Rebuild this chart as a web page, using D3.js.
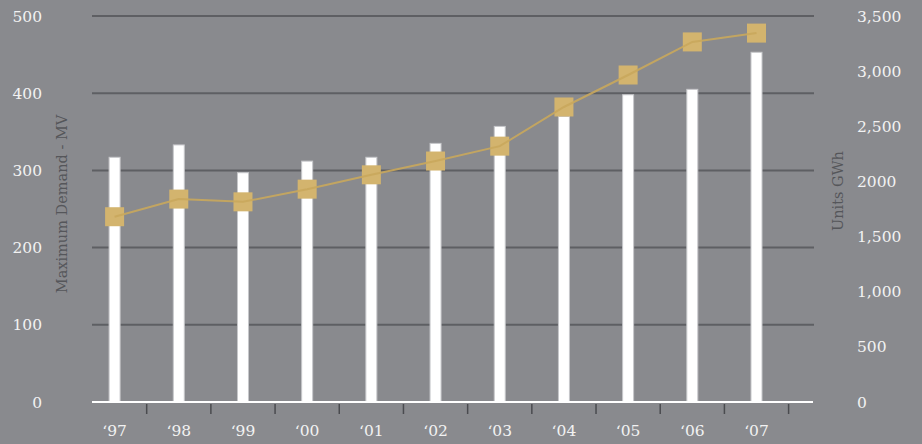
<!DOCTYPE html>
<html>
<head>
<meta charset="utf-8">
<script src="https://cdn.jsdelivr.net/npm/d3@7/dist/d3.min.js"></script>
<style>
  html, body { margin: 0; padding: 0; background: #898a8e; }
  svg { display: block; }
</style>
</head>
<body>
<svg id="chart" width="922" height="444"></svg>
<script>
// ---- data ----
const categories = ["‘97", "‘98", "‘99", "‘00", "‘01", "‘02", "‘03", "‘04", "‘05", "‘06", "‘07"];
const maxDemandMV = [317, 333, 297, 312, 317, 335, 357, 370, 398, 405, 453];
const unitsGWh = [1680, 1840, 1815, 1930, 2060, 2185, 2320, 2675, 2965, 3265, 3345];
const leftTicks = [0, 100, 200, 300, 400, 500];
const rightTicks = [0, 500, 1000, 1500, 2000, 2500, 3000, 3500];
const rightTickLabels = ["0", "500", "1,000", "1,500", "2000", "2,500", "3,000", "3,500"];
const leftTitle = "Maximum Demand - MV";
const rightTitle = "Units GWh";

// ---- layout ----
const svg = d3.select("#chart");
const font = "'DejaVu Serif', serif";
const gridX0 = 92, gridX1 = 814;

const x = d3.scaleBand().domain(categories).range([82.5, 788.6]);
const yL = d3.scaleLinear().domain([0, 500]).range([402, 16]);
const yR = d3.scaleLinear().domain([0, 3500]).range([402, 16]);
const barW = 11;
const cx = c => x(c) + x.bandwidth() / 2;

// gridlines
svg.append("g").selectAll("line").data(leftTicks.filter(d => d > 0)).join("line")
  .attr("x1", gridX0).attr("x2", gridX1)
  .attr("y1", d => yL(d)).attr("y2", d => yL(d))
  .attr("stroke", "#5e5f63").attr("stroke-width", 2);

// left tick labels
svg.append("g").selectAll("text").data(leftTicks).join("text")
  .attr("x", 42).attr("y", d => yL(d)).attr("dy", "0.36em")
  .attr("text-anchor", "end").attr("fill", "#f2f2f2")
  .attr("font-family", font).attr("font-size", 15.5)
  .text(d => d);

// right tick labels
svg.append("g").selectAll("text").data(rightTicks).join("text")
  .attr("x", 857).attr("y", d => yR(d)).attr("dy", "0.36em")
  .attr("text-anchor", "start").attr("fill", "#f2f2f2")
  .attr("font-family", font).attr("font-size", 15.5)
  .text((d, i) => rightTickLabels[i]);

// axis titles
svg.append("text")
  .attr("transform", "translate(67,204) rotate(-90)")
  .attr("text-anchor", "middle").attr("fill", "#55565a")
  .attr("font-family", font).attr("font-size", 14.5)
  .text(leftTitle);
svg.append("text")
  .attr("transform", "translate(843,191) rotate(-90)")
  .attr("text-anchor", "middle").attr("fill", "#55565a")
  .attr("font-family", font).attr("font-size", 14.5)
  .text(rightTitle);

// bars
svg.append("g").selectAll("rect").data(categories).join("rect")
  .attr("x", c => cx(c) - barW / 2)
  .attr("y", (c, i) => yL(maxDemandMV[i]))
  .attr("width", barW)
  .attr("height", (c, i) => yL(0) - yL(maxDemandMV[i]))
  .attr("fill", "#ffffff").attr("stroke", "#c6c7ca").attr("stroke-width", 1);

// baseline
svg.append("line")
  .attr("x1", gridX0).attr("x2", gridX1 - 1)
  .attr("y1", yL(0)).attr("y2", yL(0))
  .attr("stroke", "#ffffff").attr("stroke-width", 2);

// x ticks at band boundaries
svg.append("g").selectAll("line").data(categories).join("line")
  .attr("x1", c => x(c) + x.step()).attr("x2", c => x(c) + x.step())
  .attr("y1", 404).attr("y2", 414)
  .attr("stroke", "#4a4b4f").attr("stroke-width", 1.5);

// x labels
svg.append("g").selectAll("text").data(categories).join("text")
  .attr("x", c => cx(c)).attr("y", 436)
  .attr("text-anchor", "middle").attr("fill", "#f2f2f2")
  .attr("font-family", font).attr("font-size", 15.5)
  .text(c => c);

// markers
const ms = 19;
svg.append("g").selectAll("rect").data(categories).join("rect")
  .attr("x", c => cx(c) - ms / 2)
  .attr("y", (c, i) => yR(unitsGWh[i]) - ms / 2)
  .attr("width", ms).attr("height", ms)
  .attr("fill", "#d3b46e");

// line
const line = d3.line().x((d, i) => cx(categories[i])).y(d => yR(d));
svg.append("path").datum(unitsGWh)
  .attr("d", line).attr("fill", "none")
  .attr("stroke", "#c9a75c").attr("stroke-width", 2).attr("opacity", 0.9);
</script>
</body>
</html>
